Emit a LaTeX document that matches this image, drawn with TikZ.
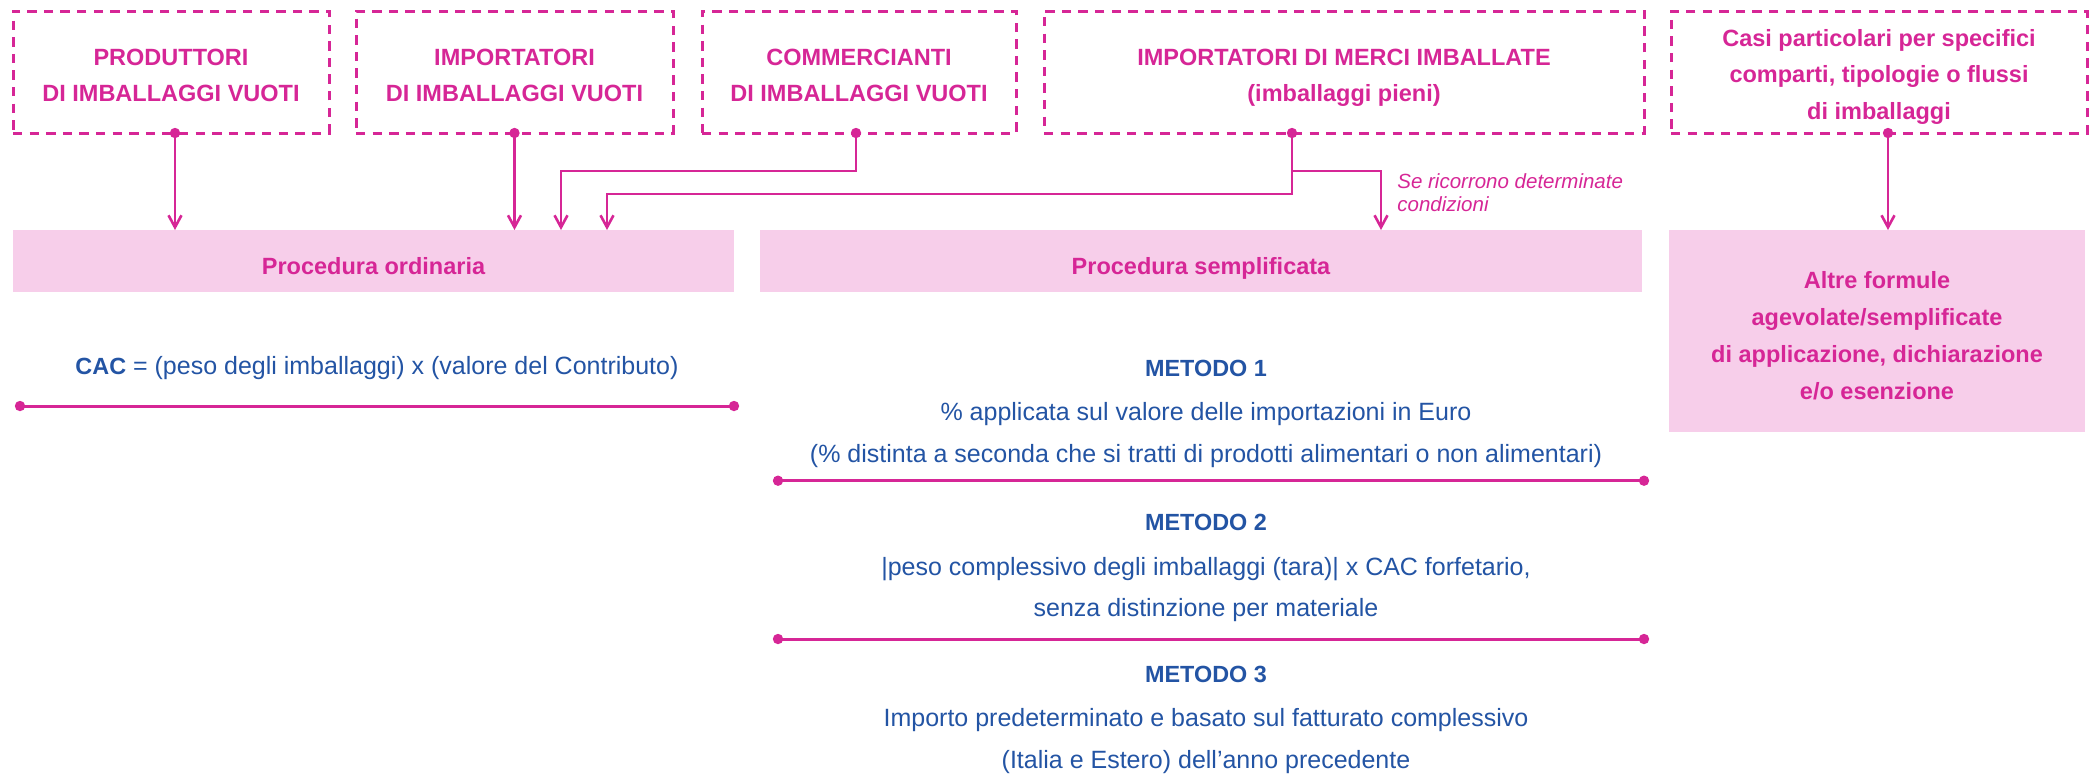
\documentclass[tikz,border=0pt]{standalone}
\usepackage{fontspec}
\setmainfont{Liberation Sans}
\usetikzlibrary{arrows.meta}
\definecolor{pk}{RGB}{214,38,150}
\definecolor{pkfill}{RGB}{247,206,234}
\definecolor{bl}{RGB}{35,84,164}
\newcommand{\lines}[1]{\begin{tabular}[b]{@{}c@{}}#1\end{tabular}}
\begin{document}
\begin{tikzpicture}[x=0.5pt,y=-0.5pt,
  topbox/.style={draw=pk, line width=1.5pt, dash pattern=on 4.7pt off 3.6pt, inner sep=0pt, outer sep=0pt, text=pk, text depth=0pt, font=\bfseries\fontsize{11.75}{18.2}\selectfont},
  procbox/.style={fill=pkfill, inner sep=0pt, outer sep=0pt, text=pk, text depth=0pt, font=\bfseries\fontsize{11.75}{18.4}\selectfont},
  conn/.style={draw=pk, line width=1.3pt, -{Straight Barb[length=6pt,width=6.5pt,line width=1.3pt]}},
  sep/.style={draw=pk, line width=1.5pt},
  body/.style={text=bl, font=\fontsize{12.5}{21}\selectfont, inner sep=0pt, anchor=base},
  meth/.style={text=bl, font=\bfseries\fontsize{11.7}{14}\selectfont, inner sep=0pt, anchor=base},
  note/.style={text=pk, font=\itshape\fontsize{10.25}{12}\selectfont, inner sep=0pt, anchor=base west}
]
\useasboundingbox (0,0) rectangle (2093,773);

% top row
\node[topbox, minimum width=158pt, minimum height=61pt, text height=29.5pt] (b1) at (171,72) {\lines{PRODUTTORI\\DI IMBALLAGGI VUOTI}};
\node[topbox, minimum width=158.5pt, minimum height=61pt, text height=29.5pt] (b2) at (514.5,72) {\lines{IMPORTATORI\\DI IMBALLAGGI VUOTI}};
\node[topbox, minimum width=157pt, minimum height=61pt, text height=29.5pt] (b3) at (859,72) {\lines{COMMERCIANTI\\DI IMBALLAGGI VUOTI}};
\node[topbox, minimum width=300pt, minimum height=61pt, text height=29.5pt] (b4) at (1344,72) {\lines{IMPORTATORI DI MERCI IMBALLATE\\(imballaggi pieni)}};
\node[topbox, minimum width=208pt, minimum height=61pt, text height=47.3pt] (b5) at (1879,72) {\lines{Casi particolari per specifici\\comparti, tipologie o flussi\\di imballaggi}};

% procedure boxes
\node[procbox, minimum width=360.5pt, minimum height=31pt, text height=13pt] (po) at (373.5,261) {Procedura ordinaria};
\node[procbox, minimum width=441pt, minimum height=31pt, text height=13pt] (ps) at (1201,261) {Procedura semplificata};
\node[procbox, minimum width=208pt, minimum height=101pt, text height=68pt] (ab) at (1877,331) {\lines{Altre formule\\agevolate/semplificate\\di applicazione, dichiarazione\\e/o esenzione}};

% connectors
\coordinate (k1) at (0,171);
\coordinate (k2) at (0,194);
\coordinate (d1) at ([xshift=2pt]b1.south);
\coordinate (d3) at ([xshift=-1.5pt]b3.south);
\coordinate (d4) at (1292,133);
\coordinate (d5) at ([xshift=4.5pt]b5.south);
\coordinate (t3) at (561,230);
\coordinate (t4) at (607,230);
\coordinate (t5) at (1381,230);

\draw[conn] (d1) -- (d1 |- po.north);
\draw[conn] (b2.south) -- (b2.south |- po.north);
\draw[conn] (d3) -- (d3 |- k1) -| (t3);
\draw[conn] (d4) -- (d4 |- k2) -| (t4);
\draw[conn] (d4 |- k1) -| (t5);
\draw[conn] (d5) -- (d5 |- ab.north);

\foreach \p in {d1,b2.south,d3,d4,d5} \fill[pk] (\p) circle (2.6pt);

\node[note] (n1) at (1397,188) {Se ricorrono determinate};
\node[note] (n2) at (1397,211.7) {condizioni};

% left column
\node[body] (cac) at (377,374) {{\bfseries\fontsize{11.7}{14}\selectfont CAC} = (peso degli imballaggi) x (valore del Contributo)};
\coordinate (s0a) at (20,406);
\coordinate (s0b) at (734,406);
\draw[sep] (s0a) -- (s0b);
\fill[pk] (s0a) circle (2.6pt) (s0b) circle (2.6pt);

% methods
\node[meth] (m1) at (1206,376) {METODO 1};
\node[body] (m1a) at (1206,420.7) {\% applicata sul valore delle importazioni in Euro};
\node[body] (m1b) at (1206,462.7) {(\% distinta a seconda che si tratti di prodotti alimentari o non alimentari)};
\coordinate (s1a) at (778,480.7);
\coordinate (s1b) at (1644,480.7);
\draw[sep] (s1a) -- (s1b);
\fill[pk] (s1a) circle (2.6pt) (s1b) circle (2.6pt);

\node[meth] (m2) at (1206,530) {METODO 2};
\node[body] (m2a) at (1206,575) {|peso complessivo degli imballaggi (tara)| x CAC forfetario,};
\node[body] (m2b) at (1206,616) {senza distinzione per materiale};
\coordinate (s2a) at (778,639);
\coordinate (s2b) at (1644,639);
\draw[sep] (s2a) -- (s2b);
\fill[pk] (s2a) circle (2.6pt) (s2b) circle (2.6pt);

\node[meth] (m3) at (1206,682.5) {METODO 3};
\node[body] (m3a) at (1206,726.7) {Importo predeterminato e basato sul fatturato complessivo};
\node[body] (m3b) at (1206,768) {(Italia e Estero) dell’anno precedente};
\end{tikzpicture}
\end{document}
